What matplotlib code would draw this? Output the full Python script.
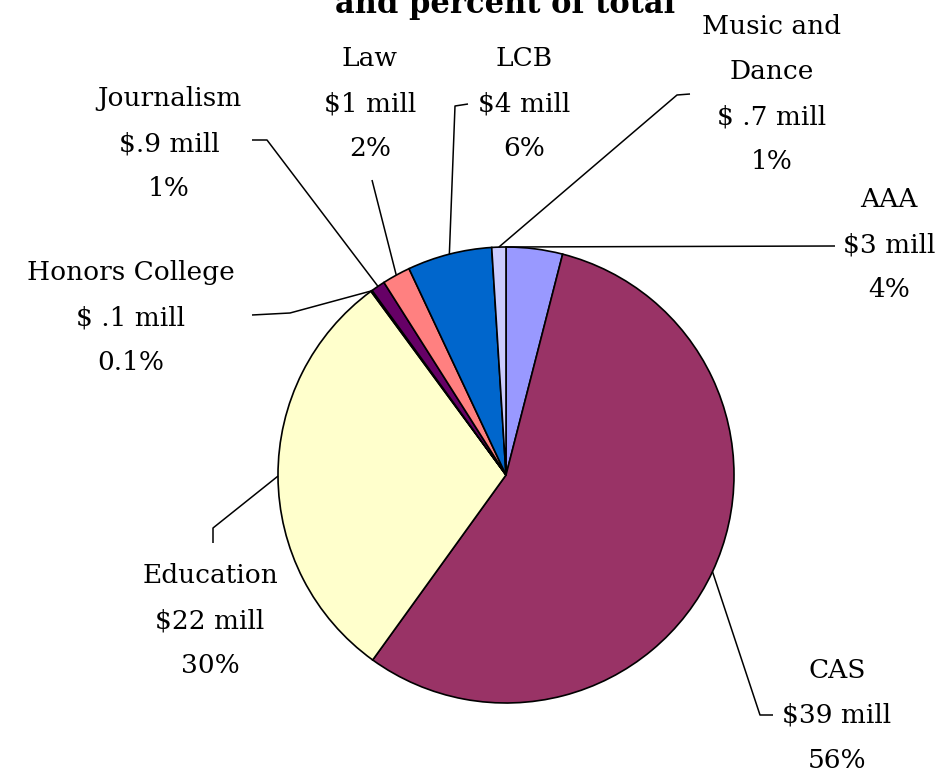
import numpy as np
import matplotlib
matplotlib.use("Agg")
from matplotlib import pyplot as plt

# data
colleges = ['AAA', 'CAS', 'Education', 'Honors College', 'Journalism',
            'Law', 'LCB', 'Music and\nDance']
dollars = ['$3 mill', '$39 mill', '$22 mill', '$ .1 mill', '$.9 mill',
           '$1 mill', '$4 mill', '$ .7 mill']
pct_labels = ['4%', '56%', '30%', '0.1%', '1%', '2%', '6%', '1%']
percents = [4, 56, 30, 0.1, 1, 2, 6, 1]
colors = ['#9999FF', '#993366', '#FFFFCC', '#CCFFFF', '#660066',
          '#FF8080', '#0066CC', '#CCCCFF']

W, H = 948, 778

# layout (pixel coords, y from top)
pie_center = (506, 475)
pie_radius = 228
label_x = [889, 837, 210, 131, 169, 370, 524, 772]
label_base = [207, 678, 583, 280, 106, 66, 66, 34]   # first baseline
line_step = 45
leader_frac = [1.0, 0.5, 0.5, 0.5, 0.5, 0.5, 0.5, 0.5]
leader_path = [
    [(835, 246)],
    [(760, 715), (773, 715)],
    [(213, 528), (213, 543)],
    [(290, 313), (252, 315)],
    [(267, 140), (252, 140)],
    [(372, 180)],
    [(455, 106), (468, 104)],
    [(677, 95), (690, 94)],
]

def fy(y):
    return H - y

fig = plt.figure(figsize=(W / 100, H / 100), dpi=100)
ax = fig.add_axes([0, 0, 1, 1])

wedges, _ = ax.pie(percents, colors=colors, startangle=90, counterclock=False,
                   center=(pie_center[0], fy(pie_center[1])), radius=pie_radius,
                   wedgeprops=dict(edgecolor='black', linewidth=1.2))
ax.set_xlim(0, W)
ax.set_ylim(0, H)
ax.set_aspect('equal')
ax.axis('off')

font = dict(family='DejaVu Serif', fontsize=19, color='black')

for i, w in enumerate(wedges):
    # leader line from the wedge edge to the label
    ang = np.deg2rad(w.theta1 + leader_frac[i] * (w.theta2 - w.theta1))
    sx = w.center[0] + w.r * np.cos(ang)
    sy = w.center[1] + w.r * np.sin(ang)
    xs = [sx] + [p[0] for p in leader_path[i]]
    ys = [sy] + [fy(p[1]) for p in leader_path[i]]
    ax.plot(xs, ys, color='black', lw=1.1, solid_capstyle='butt')

    lines = colleges[i].split('\n') + [dollars[i].replace('$', r'\$'), pct_labels[i]]
    for k, txt in enumerate(lines):
        ax.text(label_x[i], fy(label_base[i] + k * line_step), txt,
                ha='center', va='baseline', **font)

fig.text(505 / W, 1 - 13 / H, 'and percent of total', ha='center', va='baseline',
         family='DejaVu Serif', fontsize=22, fontweight='bold')

fig.savefig('out.png', dpi=100)
